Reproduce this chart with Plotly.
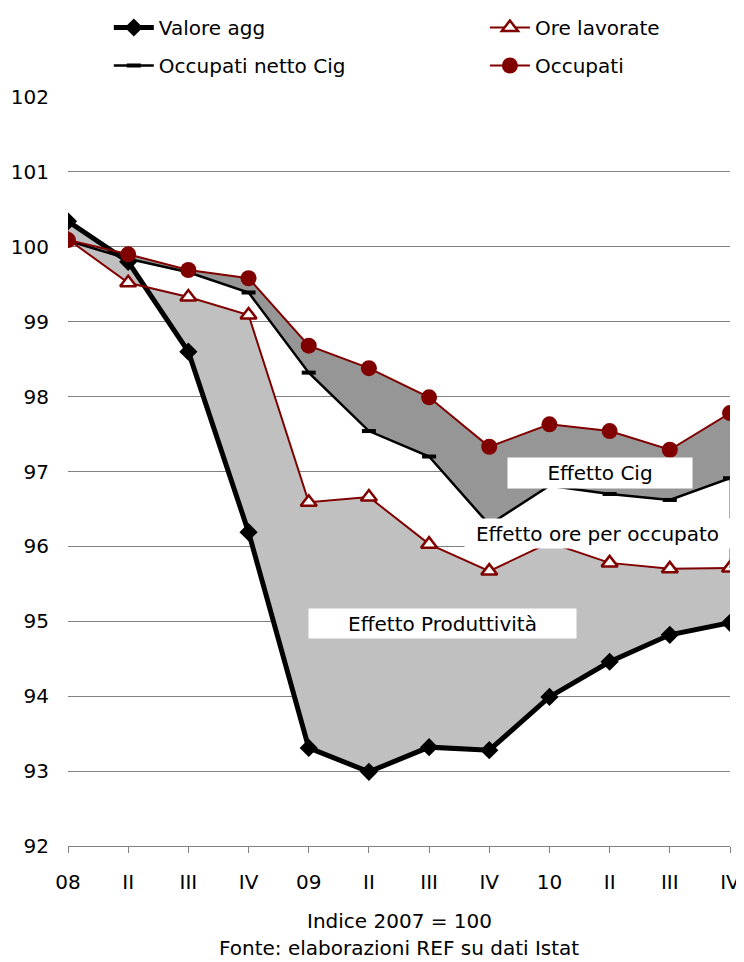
import plotly.graph_objects as go

categories = ["08", "II", "III", "IV", "09", "II", "III", "IV", "10", "II", "III", "IV"]
valore_agg = [100.34, 99.80, 98.60, 96.19, 93.31, 92.99, 93.32, 93.28, 93.99, 94.46, 94.82, 94.98]
ore_lavorate = [100.10, 99.52, 99.33, 99.09, 96.59, 96.66, 96.03, 95.67, 96.05, 95.78, 95.70, 95.71]
occupati_netto_cig = [100.08, 99.84, 99.66, 99.39, 98.32, 97.54, 97.20, 96.29, 96.81, 96.70, 96.62, 96.91]
occupati = [100.09, 99.90, 99.69, 99.58, 98.68, 98.38, 97.99, 97.33, 97.63, 97.54, 97.29, 97.78]
y_ticks = [92, 93, 94, 95, 96, 97, 98, 99, 100, 101, 102]

x = list(range(len(categories)))
DARKRED = "#800000"
FONT = "DejaVu Sans"

fig = go.Figure()

# filled areas (behind the lines)
fig.add_trace(go.Scatter(x=x, y=valore_agg, mode="lines", line=dict(width=0),
                         showlegend=False, hoverinfo="skip"))
fig.add_trace(go.Scatter(x=x, y=ore_lavorate, mode="lines", line=dict(width=0),
                         fill="tonexty", fillcolor="#C0C0C0", showlegend=False, hoverinfo="skip"))
fig.add_trace(go.Scatter(x=x, y=occupati_netto_cig, mode="lines", line=dict(width=0),
                         showlegend=False, hoverinfo="skip"))
fig.add_trace(go.Scatter(x=x, y=occupati, mode="lines", line=dict(width=0),
                         fill="tonexty", fillcolor="#969696", showlegend=False, hoverinfo="skip"))

# lines
fig.add_trace(go.Scatter(x=x, y=valore_agg, name="Valore agg", mode="lines+markers",
                         line=dict(color="black", width=5),
                         marker=dict(symbol="diamond", size=14, color="black"),
                         legend="legend", legendgroup="a"))
fig.add_trace(go.Scatter(x=x, y=occupati_netto_cig, name="Occupati netto Cig", mode="lines+markers",
                         line=dict(color="black", width=2.5),
                         marker=dict(symbol="line-ew", size=10, line=dict(color="black", width=4)),
                         legend="legend", legendgroup="b"))
fig.add_trace(go.Scatter(x=x, y=ore_lavorate, name="Ore lavorate", mode="lines+markers",
                         line=dict(color=DARKRED, width=2),
                         marker=dict(symbol="triangle-up", size=14, color="white",
                                     line=dict(color=DARKRED, width=2.5)),
                         legend="legend2", legendgroup="c"))
fig.add_trace(go.Scatter(x=x, y=occupati, name="Occupati", mode="lines+markers",
                         line=dict(color=DARKRED, width=2),
                         marker=dict(symbol="circle", size=16, color=DARKRED),
                         legend="legend2", legendgroup="d"))

# thin edge at the right end
fig.add_shape(type="line", x0=x[-1], x1=x[-1], y0=occupati_netto_cig[-1], y1=ore_lavorate[-1],
              line=dict(color="#606060", width=1), layer="above")

box_font = dict(family=FONT, size=20, color="black")
fig.add_annotation(x=8.84, y=96.98, text="Effetto Cig", showarrow=False, font=box_font,
                   bgcolor="white", width=184, height=30, borderpad=0)
fig.add_annotation(x=8.79, y=96.17, text="Effetto ore per occupato", showarrow=False, font=box_font,
                   bgcolor="white", width=265, height=29, borderpad=0)
fig.add_annotation(x=6.22, y=94.97, text="Effetto Produttività", showarrow=False, font=box_font,
                   bgcolor="white", width=267, height=29, borderpad=0)

fig.add_annotation(xref="paper", yref="paper", x=0.5, y=-0.100, yanchor="middle",
                   text="Indice 2007 = 100", showarrow=False, font=box_font)
fig.add_annotation(xref="paper", yref="paper", x=0.5, y=-0.136, yanchor="middle",
                   text="Fonte: elaborazioni REF su dati Istat", showarrow=False, font=box_font)

legend_common = dict(orientation="v", yanchor="top", xanchor="left", bgcolor="rgba(0,0,0,0)",
                     font=dict(family=FONT, size=20, color="black"), tracegroupgap=9,
                     itemwidth=40, xref="container", yref="container")
fig.update_layout(
    width=736, height=954,
    margin=dict(l=60, r=14, t=89, b=116, autoexpand=False),
    paper_bgcolor="white", plot_bgcolor="white",
    font=dict(family=FONT, size=20, color="black"),
    legend=dict(x=0.137, y=1.003, **legend_common),
    legend2=dict(x=0.648, y=1.003, **legend_common),
    xaxis=dict(range=[0, len(categories) - 1], tickvals=x, ticktext=categories,
               showgrid=False, showline=True, linecolor="#808080", linewidth=1,
               ticks="outside", ticklen=6, tickcolor="#808080", ticklabelstandoff=12,
               tickfont=dict(family=FONT, size=20, color="black"), zeroline=False,
               automargin=False),
    yaxis=dict(range=[92, 102], tickvals=y_ticks, showgrid=True, gridcolor="#808080",
               gridwidth=1, zeroline=False, showline=False, ticks="",
               ticklabelstandoff=18, tickfont=dict(family=FONT, size=20, color="black"),
               automargin=False),
)

fig.write_html("out.html")
